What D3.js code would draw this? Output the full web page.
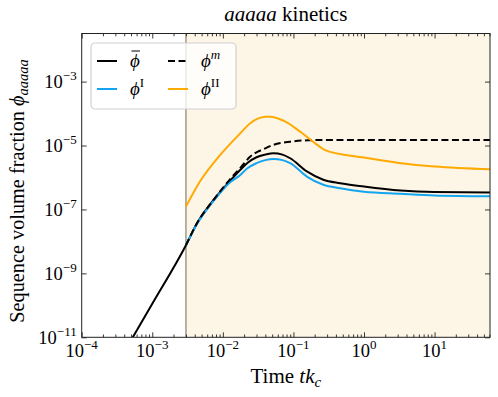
<!DOCTYPE html>
<html>
<head>
<meta charset="utf-8">
<script src="https://cdn.jsdelivr.net/npm/d3@7"></script>
<style>
  body { margin: 0; background: #fff; }
  text { font-family: "Liberation Serif", "Times New Roman", serif; fill: #000; }
</style>
</head>
<body>
<svg id="chart" width="498" height="397"></svg>
<script>
// ---- data ----
const barT   = [5.3e-4, 1e-3, 3e-3, 4.3e-3, 7.4e-3, 1.27e-2, 1.77e-2, 2.2e-2, 3.0e-2, 4.0e-2, 5.2e-2, 7.0e-2, 9.0e-2, 0.155, 0.265, 0.46, 1, 3.3, 10, 61];
const barPhi = [1e-11, 1.12e-10, 7.6e-9, 3.7e-8, 2.0e-7, 7.9e-7, 1.74e-6, 2.8e-6, 4.3e-6, 5.2e-6, 5.75e-6, 5.2e-6, 4.0e-6, 1.55e-6, 8.5e-7, 6.6e-7, 5.2e-7, 3.9e-7, 3.5e-7, 3.4e-7];

const iT   = [3e-3, 4.3e-3, 7.4e-3, 1.27e-2, 1.77e-2, 2.2e-2, 3.0e-2, 4.0e-2, 5.2e-2, 7.0e-2, 9.0e-2, 0.155, 0.265, 0.46, 1, 3.3, 10, 61];
const iPhi = [7.6e-9, 3.5e-8, 1.86e-7, 7.1e-7, 1.2e-6, 1.9e-6, 2.8e-6, 3.5e-6, 3.8e-6, 3.5e-6, 2.8e-6, 1.07e-6, 5.9e-7, 4.6e-7, 3.6e-7, 3.1e-7, 2.75e-7, 2.6e-7];

const mT   = [3e-3, 4.3e-3, 7.4e-3, 1.27e-2, 1.77e-2, 2.45e-2, 4.0e-2, 5.2e-2, 9.0e-2, 0.16, 0.3, 61];
const mPhi = [7.6e-9, 3.7e-8, 2.0e-7, 8.9e-7, 2.0e-6, 4.5e-6, 8.2e-6, 1.05e-5, 1.32e-5, 1.46e-5, 1.5e-5, 1.5e-5];

const iiT   = [3e-3, 4.76e-3, 9.2e-3, 1.76e-2, 2.44e-2, 4.0e-2, 4.6e-2, 7.7e-2, 0.125, 0.204, 0.28, 1, 3.3, 10, 61];
const iiPhi = [1.23e-7, 7.6e-7, 5.1e-6, 2.4e-5, 5.0e-5, 7.9e-5, 8.0e-5, 5.6e-5, 2.7e-5, 1.17e-5, 7.2e-6, 4.2e-6, 2.8e-6, 2.2e-6, 1.8e-6];

const shadeStart = 3e-3;
const xTicks = [1e-4, 1e-3, 1e-2, 1e-1, 1e0, 1e1];
const xTickExp = ["−4", "−3", "−2", "−1", "0", "1"];
const yTicks = [1e-11, 1e-9, 1e-7, 1e-5, 1e-3];
const yTickExp = ["−11", "−9", "−7", "−5", "−3"];

// ---- layout ----
const width = 498, height = 397;
const margin = { top: 33.5, right: 8, bottom: 59.7, left: 81.7 };
const svg = d3.select("#chart");

const x = d3.scaleLog().domain([1e-4, 61]).range([margin.left, width - margin.right]);
const y = d3.scaleLog().domain([1e-11, 0.032]).range([height - margin.bottom, margin.top]);

const pw = width - margin.left - margin.right;
const ph = height - margin.top - margin.bottom;

svg.append("defs").append("clipPath").attr("id", "plot-clip")
  .append("rect").attr("x", margin.left).attr("y", margin.top).attr("width", pw).attr("height", ph);

// shaded region after the switch
svg.append("rect")
  .attr("x", x(shadeStart)).attr("y", margin.top)
  .attr("width", x.range()[1] - x(shadeStart)).attr("height", ph)
  .attr("fill", "#fdf5e6");
svg.append("line")
  .attr("x1", x(shadeStart)).attr("x2", x(shadeStart))
  .attr("y1", margin.top).attr("y2", height - margin.bottom)
  .attr("stroke", "#b3a898").attr("stroke-width", 1.8);

const series = [
  { t: barT, v: barPhi, color: "#000", dash: null },
  { t: iT, v: iPhi, color: "#14a5f0", dash: null },
  { t: mT, v: mPhi, color: "#000", dash: "7,3.5" },
  { t: iiT, v: iiPhi, color: "#ffaa00", dash: null }
];

const line = d3.line()
  .x((d) => x(d[0]))
  .y((d) => y(d[1]))
  .curve(d3.curveMonotoneX);

const plot = svg.append("g").attr("clip-path", "url(#plot-clip)");
series.forEach((s) => {
  plot.append("path")
    .datum(s.t.map((t, i) => [t, s.v[i]]))
    .attr("d", line)
    .attr("fill", "none")
    .attr("stroke", s.color)
    .attr("stroke-width", 2)
    .attr("stroke-dasharray", s.dash);
});

// ---- axes (ticks inward on all sides) ----
const minorX = [];
for (let e = -4; e <= 1; e++) {
  for (let k = 2; k <= 9; k++) {
    const v = k * Math.pow(10, e);
    if (v <= 61) minorX.push(v);
  }
}

function styleAxis(g) {
  g.select(".domain").remove();
  g.selectAll("line").attr("stroke", "#222").attr("stroke-width", 0.9);
}

svg.append("g").attr("transform", `translate(0,${height - margin.bottom})`)
  .call(d3.axisBottom(x).tickValues(xTicks).tickSize(-5).tickFormat("")).call(styleAxis);
svg.append("g").attr("transform", `translate(0,${height - margin.bottom})`)
  .call(d3.axisBottom(x).tickValues(minorX).tickSize(-2.8).tickFormat("")).call(styleAxis);
svg.append("g").attr("transform", `translate(0,${margin.top})`)
  .call(d3.axisTop(x).tickValues(xTicks).tickSize(-5).tickFormat("")).call(styleAxis);
svg.append("g").attr("transform", `translate(0,${margin.top})`)
  .call(d3.axisTop(x).tickValues(minorX).tickSize(-2.8).tickFormat("")).call(styleAxis);
svg.append("g").attr("transform", `translate(${margin.left},0)`)
  .call(d3.axisLeft(y).tickValues(yTicks).tickSize(-5).tickFormat("")).call(styleAxis);
svg.append("g").attr("transform", `translate(${width - margin.right},0)`)
  .call(d3.axisRight(y).tickValues(yTicks).tickSize(-5).tickFormat("")).call(styleAxis);

// spines
svg.append("rect")
  .attr("x", margin.left).attr("y", margin.top).attr("width", pw).attr("height", ph)
  .attr("fill", "none").attr("stroke", "#222").attr("stroke-width", 1);

// tick labels
const tickSize = 18.5;
xTicks.forEach((v, i) => {
  const t = svg.append("text")
    .attr("x", x(v)).attr("y", height - margin.bottom + 20)
    .attr("text-anchor", "middle")
    .style("font-size", tickSize + "px");
  t.append("tspan").text("10");
  t.append("tspan").attr("dy", -8).style("font-size", "13px").text(xTickExp[i]);
});
yTicks.forEach((v, i) => {
  const t = svg.append("text")
    .attr("x", margin.left - 5).attr("y", y(v) + 6.5)
    .attr("text-anchor", "end")
    .style("font-size", tickSize + "px");
  t.append("tspan").text("10");
  t.append("tspan").attr("dy", -8).style("font-size", "13px").text(yTickExp[i]);
});

// axis labels and title
const labelSize = 21;
const xl = svg.append("text")
  .attr("x", margin.left + pw / 2).attr("y", 383)
  .attr("text-anchor", "middle").style("font-size", labelSize + "px");
xl.append("tspan").text("Time ");
xl.append("tspan").style("font-style", "italic").text("tk");
xl.append("tspan").style("font-style", "italic").style("font-size", "15px").attr("dy", 4).text("c");

const yl = svg.append("text")
  .attr("transform", `translate(24,191) rotate(-90)`)
  .attr("text-anchor", "middle").style("font-size", "20.3px");
yl.append("tspan").text("Sequence volume fraction ");
yl.append("tspan").style("font-style", "italic").text("ϕ");
yl.append("tspan").style("font-style", "italic").style("font-size", "14.5px").attr("dy", 4).text("aaaaa");

const title = svg.append("text")
  .attr("x", margin.left + pw / 2).attr("y", 21)
  .attr("text-anchor", "middle").style("font-size", labelSize + "px");
title.append("tspan").style("font-style", "italic").text("aaaaa");
title.append("tspan").text(" kinetics");

// ---- legend ----
const lg = svg.append("g");
lg.append("rect")
  .attr("x", 91).attr("y", 43).attr("width", 145).attr("height", 66).attr("rx", 4)
  .attr("fill", "#fff").attr("fill-opacity", 0.8)
  .attr("stroke", "#d0d0d0").attr("stroke-width", 1.2);

const legendItems = [
  { s: series[0], col: 0, row: 0, sup: null, bar: true },
  { s: series[1], col: 0, row: 1, sup: "I", italicSup: false },
  { s: series[2], col: 1, row: 0, sup: "m", italicSup: true },
  { s: series[3], col: 1, row: 1, sup: "II", italicSup: false }
];
legendItems.forEach((d) => {
  const lx = d.col === 0 ? 97 : 168;
  const ly = d.row === 0 ? 61 : 89;
  lg.append("line")
    .attr("x1", lx).attr("x2", lx + 20).attr("y1", ly).attr("y2", ly)
    .attr("stroke", d.s.color).attr("stroke-width", 2)
    .attr("stroke-dasharray", d.s.dash);
  const tx = lx + 33;
  const t = lg.append("text").attr("x", tx).attr("y", ly + 6).style("font-size", "19px");
  t.append("tspan").style("font-style", "italic").text("ϕ");
  if (d.sup) {
    t.append("tspan").attr("dy", -8).style("font-size", "13px")
      .style("font-style", d.italicSup ? "italic" : "normal").text(d.sup);
  }
  if (d.bar) {
    lg.append("line")
      .attr("x1", tx + 1.5).attr("x2", tx + 10).attr("y1", ly - 10).attr("y2", ly - 10)
      .attr("stroke", "#000").attr("stroke-width", 1);
  }
});
</script>
</body>
</html>
